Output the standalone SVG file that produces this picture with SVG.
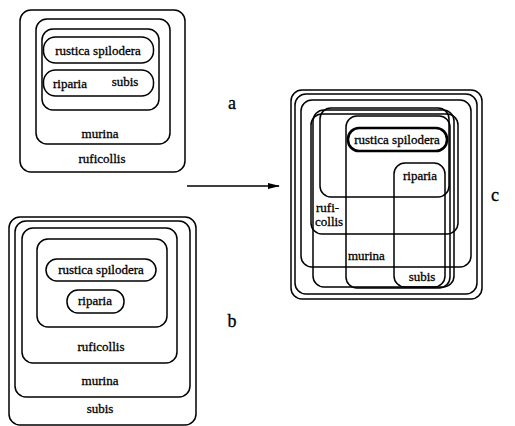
<svg xmlns="http://www.w3.org/2000/svg" width="515" height="426" viewBox="0 0 515 426">
<style>
.b{fill:none;stroke:#000;stroke-width:1.5}
.p{fill:none;stroke:#000;stroke-width:1.5}
.tk{fill:none;stroke:#000;stroke-width:2.6}
.t{font-family:'Liberation Serif','DejaVu Serif','Times New Roman',serif;font-size:13px;fill:#000;stroke:#000;stroke-width:0.3}
.m{text-anchor:middle}
.lb{font-size:18px}
</style>
<defs>
<marker id="ah" markerWidth="12" markerHeight="8" refX="11" refY="4" orient="auto" markerUnits="userSpaceOnUse">
<path d="M0,1 L12,4 L0,7 Z" fill="#000"/>
</marker>
</defs>
<rect width="515" height="426" fill="#fff"/>
<g id="diagram-a" font-family="Liberation Serif, DejaVu Serif, serif">
<rect id="a-ruficollis" class="b" x="20" y="10" width="165" height="162" rx="11"/>
<rect id="a-murina" class="b" x="36" y="19" width="134" height="125" rx="11"/>
<rect id="a-inner" class="b" x="42" y="29" width="117" height="81" rx="11"/>
<g id="a-rustica"><rect class="p" x="43.5" y="37" width="110" height="26" rx="12"/><text x="98" y="55" class="t m">rustica  spilodera</text></g>
<g id="a-riparia"><rect class="p" x="43.5" y="70" width="110" height="26" rx="12"/><text x="70" y="88" class="t m">riparia</text><text x="125" y="86" class="t m">subis</text></g>
<text x="100" y="138" class="t m">murina</text>
<text x="102" y="163" class="t m">ruficollis</text>
<text x="232" y="109" class="t lb m">a</text>
</g>
<g id="diagram-b" font-family="Liberation Serif, DejaVu Serif, serif">
<rect id="b-subis" class="b" x="9" y="217" width="187" height="208" rx="11"/>
<rect id="b-murina" class="b" x="15" y="221" width="175" height="176" rx="11"/>
<rect id="b-ruficollis" class="b" x="22" y="228" width="155" height="135" rx="11"/>
<rect id="b-inner" class="b" x="37" y="239" width="130" height="88" rx="11"/>
<g id="b-rustica"><rect class="p" x="46" y="259" width="110" height="22" rx="11"/><text x="101" y="274" class="t m">rustica  spilodera</text></g>
<g id="b-riparia"><rect class="p" x="67" y="290" width="57" height="23" rx="11"/><text x="95" y="305" class="t m">riparia</text></g>
<text x="101" y="351" class="t m">ruficollis</text>
<text x="100" y="385" class="t m">murina</text>
<text x="100" y="413" class="t m">subis</text>
<text x="232" y="327" class="t lb m">b</text>
</g>
<g id="connectors">
<line x1="187" y1="186" x2="279" y2="186" stroke="#000" stroke-width="1.4" marker-end="url(#ah)"/>
</g>
<g id="diagram-c" font-family="Liberation Serif, DejaVu Serif, serif">
<rect id="c-1" class="b" x="291" y="90" width="191" height="209" rx="11"/>
<rect id="c-2" class="b" x="295" y="94" width="182" height="200" rx="11"/>
<rect id="c-3" class="b" x="301" y="100" width="170" height="167" rx="11"/>
<rect id="c-ruficollis" class="b" x="311" y="114" width="147" height="120" rx="11"/>
<rect id="c-5" class="b" x="313" y="110" width="141" height="177" rx="11"/>
<rect id="c-6" class="b" x="320" y="108" width="129" height="89" rx="11"/>
<rect id="c-murina" class="b" x="346" y="116" width="104" height="172" rx="11"/>
<rect id="c-subis" class="b" x="394" y="163" width="51" height="124" rx="11"/>
<g id="c-rustica"><rect class="tk" x="348" y="128" width="99" height="23" rx="11"/><text x="397" y="144" class="t m">rustica spilodera</text></g>
<text x="420" y="180" class="t m">riparia</text>
<text x="316" y="212" class="t">rufi-</text>
<text x="315" y="226" class="t">collis</text>
<text x="348" y="260" class="t">murina</text>
<text x="422" y="281" class="t m">subis</text>
<text x="495" y="201" class="t lb m">c</text>
</g>
</svg>
